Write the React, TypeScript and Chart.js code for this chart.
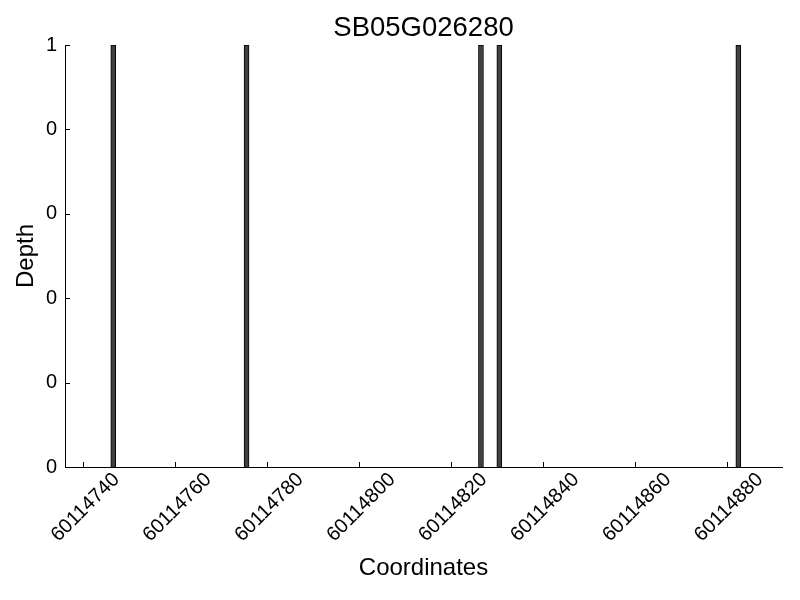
import React, { useEffect, useRef } from "react";
import { Chart, registerables } from "chart.js";

Chart.register(...registerables);

// Data
const chartTitle = "SB05G026280";
const xAxisTitle = "Coordinates";
const yAxisTitle = "Depth";
// start coordinate of each covered base (each bar spans one base)
const positions = [60114746, 60114775, 60114826, 60114830, 60114882];
const depths = [1, 1, 1, 1, 1];
const xMin = 60114736;
const xMax = 60114892;
const xTicks = [60114740, 60114760, 60114780, 60114800, 60114820, 60114840, 60114860, 60114880];
const yTicks = [0, 0.2, 0.4, 0.6, 0.8, 1];
const yTickLabels = ["0", "0", "0", "0", "0", "1"];

const FONT = "'Liberation Sans', Arial, sans-serif";

const innerTicks = {
  id: "innerTicks",
  afterDatasetsDraw(chart: any) {
    const ctx = chart.ctx;
    const xs = chart.scales.x;
    const ys = chart.scales.y;
    const area = chart.chartArea;
    ctx.save();
    ctx.strokeStyle = "#000";
    ctx.lineWidth = 1;
    ctx.beginPath();
    for (const t of xs.ticks) {
      const px = Math.round(xs.getPixelForValue(t.value)) + 0.5;
      ctx.moveTo(px, area.bottom);
      ctx.lineTo(px, area.bottom - 5);
    }
    for (const t of ys.ticks) {
      const py = Math.round(ys.getPixelForValue(t.value)) + 0.5;
      ctx.moveTo(area.left, py);
      ctx.lineTo(area.left + 5, py);
    }
    ctx.stroke();
    ctx.restore();
  },
};

export default function App() {
  const ref = useRef<HTMLCanvasElement | null>(null);

  useEffect(() => {
    if (!ref.current) return;
    const chart = new Chart(ref.current, {
      type: "bar",
      data: {
        datasets: [
          {
            data: positions.map((p, i) => ({ x: p + 0.5, y: depths[i] })),
            backgroundColor: "#404040",
            borderColor: "#000000",
            borderWidth: 1,
            barThickness: 5,
          } as any,
        ],
      },
      options: {
        animation: false,
        responsive: false,
        devicePixelRatio: 1,
        layout: { padding: { left: 0, right: 18, top: 0, bottom: 0 } },
        plugins: {
          legend: { display: false },
          tooltip: { enabled: false },
          title: {
            display: true,
            text: chartTitle,
            fullSize: false,
            color: "#000",
            font: { family: FONT, size: 27.5, weight: "normal" },
            padding: { top: 12, bottom: 0 },
          },
        },
        scales: {
          x: {
            type: "linear",
            min: xMin,
            max: xMax,
            offset: false,
            grid: { display: false, drawTicks: false },
            border: { display: true, color: "#000", width: 1 },
            afterBuildTicks: (scale: any) => {
              scale.ticks = xTicks.map((v) => ({ value: v }));
            },
            afterFit: (scale: any) => {
              scale.height = 133;
            },
            ticks: {
              color: "#000",
              font: { family: FONT, size: 20 },
              minRotation: 45,
              maxRotation: 45,
              padding: 1,
              labelOffset: 33,
              autoSkip: false,
              callback: (v: any) => String(v),
            },
            title: {
              display: true,
              text: xAxisTitle,
              color: "#000",
              font: { family: FONT, size: 24 },
              padding: { top: 0, bottom: 17 },
            },
          },
          y: {
            type: "linear",
            min: 0,
            max: 1,
            grid: { display: false, drawTicks: false },
            border: { display: true, color: "#000", width: 1 },
            afterBuildTicks: (scale: any) => {
              scale.ticks = yTicks.map((v) => ({ value: v }));
            },
            afterFit: (scale: any) => {
              scale.width = 65;
            },
            ticks: {
              color: "#000",
              font: { family: FONT, size: 20 },
              padding: 8,
              autoSkip: false,
              callback: (v: any) => {
                const i = yTicks.indexOf(Number(v));
                return i >= 0 ? yTickLabels[i] : "";
              },
            },
            title: {
              display: true,
              text: yAxisTitle,
              color: "#000",
              font: { family: FONT, size: 24 },
              padding: { top: 12, bottom: 0 },
            },
          },
        },
      },
      plugins: [innerTicks],
    });
    return () => chart.destroy();
  }, []);

  return (
    <div style={{ position: "fixed", left: 0, top: 0, width: 800, height: 600, background: "#fff" }}>
      <canvas ref={ref} width={800} height={600} />
    </div>
  );
}
